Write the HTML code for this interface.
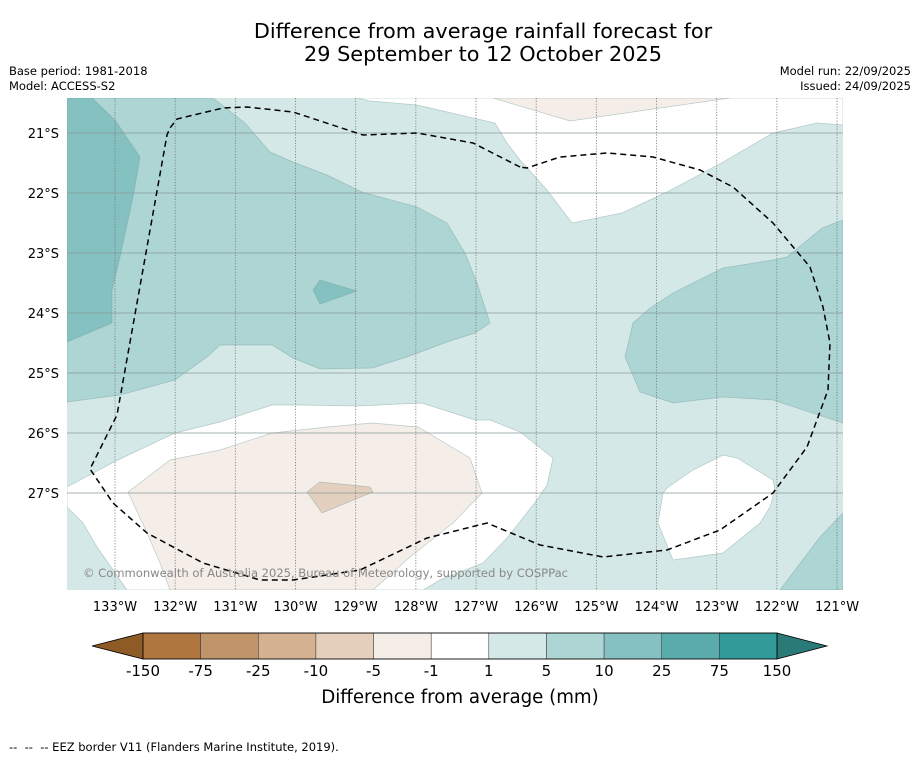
<!DOCTYPE html>
<html><head><meta charset="utf-8"><style>
body{margin:0;background:#fff;width:919px;height:758px;overflow:hidden;font-family:"Liberation Sans","DejaVu Sans",sans-serif}
svg text{font-family:"DejaVu Sans","Liberation Sans",sans-serif}
</style></head><body>
<svg width="919" height="758">
<text x="483" y="38" font-size="20.8" text-anchor="middle">Difference from average rainfall forecast for</text>
<text x="483" y="61" font-size="20.8" text-anchor="middle">29 September to 12 October 2025</text>
<text x="9" y="75" font-size="11.5">Base period: 1981-2018</text>
<text x="9" y="90" font-size="11.5">Model: ACCESS-S2</text>
<text x="911" y="75" font-size="11.5" text-anchor="end">Model run: 22/09/2025</text>
<text x="911" y="90" font-size="11.5" text-anchor="end">Issued: 24/09/2025</text>
<defs><clipPath id="mc"><rect x="67" y="98" width="776" height="492"/></clipPath></defs>
<g clip-path="url(#mc)" stroke="rgba(110,150,150,0.45)" stroke-width="0.7">
<rect x="67" y="98" width="776" height="492" fill="#d4e9e7" stroke="none"/>
<polygon fill="#fff" points="357,98 370,101 417,105 495,123 507,143 520,160 547,190 572,223 622,213 667,192 723,162 773,133 817,123 843,125 843,98"/>
<polygon fill="#f4ede8" points="493,98 570,121 730,98"/>
<polygon fill="#acd5d4" points="843,220 822,228 787,257 773,260 723,268 673,293 650,308 633,323 625,357 640,392 673,403 723,397 773,400 843,423"/>
<polygon fill="#fff" points="667,488 693,470 723,455 737,458 773,480 775,490 770,507 760,523 723,553 673,560 658,523 663,493"/>
<polygon fill="#acd5d4" points="780,590 820,537 843,513 843,590"/>
<polygon fill="#fff" points="67,487 118,460 175,433 220,422 272,405 300,405 357,406 422,403 475,420 490,420 520,432 553,458 547,485 537,500 507,538 483,563 440,580 423,590 127,590 97,547 83,523 67,507"/>
<polygon fill="#f4ede8" points="128,492 170,460 220,450 272,433 327,427 372,423 418,427 470,458 482,493 453,523 410,557 373,590 170,590 160,563 147,533"/>
<polygon fill="#e3cfbd" points="307,492 320,482 370,487 373,492 322,513"/>
<polygon fill="#acd5d4" points="67,98 213,98 245,123 270,152 293,162 327,175 362,192 417,207 447,223 465,253 477,283 490,323 475,333 447,342 407,357 372,368 320,369 293,358 272,345 220,345 207,357 175,380 120,395 67,402"/>
<polygon fill="#84c1c0" points="67,98 92,98 115,120 140,157 133,197 120,257 112,290 112,323 67,342"/>
<polygon fill="#84c1c0" points="313,290 320,280 357,291 320,304"/>
</g>
<g id="grid"></g>
<polyline fill="none" stroke="#000" stroke-width="1.5" stroke-dasharray="6,4" points="520,167 473,143 417,133 363,135 293,112 247,107 223,108 177,119 170,128 167,135 117,415 90,469 113,503 147,533 203,563 260,580 293,580 360,570 427,538 487,523 540,545 603,557 667,550 720,530 773,493 807,447 828,390 830,343 823,307 810,267 773,223 733,187 700,170 653,157 607,153 560,157 527,168 520,167"/>
<text x="83" y="577" font-size="11.6" fill="#888" textLength="485">© Commonwealth of Australia 2025, Bureau of Meteorology, supported by COSPPac</text>
<g id="axes"></g>
<g id="cbar"></g>
<text x="460" y="703" font-size="18.2" text-anchor="middle">Difference from average (mm)</text>
<text x="9" y="751" font-size="11.5" xml:space="preserve" style="white-space:pre">--  --  -- EEZ border V11 (Flanders Marine Institute, 2019).</text>
</svg>
<script>
const lonTicks=[133,132,131,130,129,128,127,126,125,124,123,122,121];
const latTicks=[21,22,23,24,25,26,27];
const levels=["-150","-75","-25","-10","-5","-1","1","5","10","25","75","150"];
const binColors=["#b07840","#c1956a","#d4b190","#e4cfbc","#f4ede8","#ffffff","#d4e9e7","#acd5d4","#84c1c0","#5aacac","#329a98"];
const NS="http://www.w3.org/2000/svg";
function mk(t,a,p){const e=document.createElementNS(NS,t);for(const k in a)e.setAttribute(k,a[k]);p.appendChild(e);return e;}
const xLon=l=>115+(133-l)*60.17;
const yLat=l=>133+(l-21)*60;
const grid=document.getElementById('grid'),axes=document.getElementById('axes'),cb=document.getElementById('cbar');
latTicks.forEach(l=>{
 const ln=mk('line',{x1:67,x2:843,y1:yLat(l),y2:yLat(l),stroke:'#8a9a9a','stroke-width':0.7},grid);
 
 
 const t=mk('text',{x:59,y:yLat(l)+5,'font-size':13,'text-anchor':'end'},axes);t.textContent=l+'°S';
 
 
});
lonTicks.forEach(l=>{
 const ln=mk('line',{x1:xLon(l),x2:xLon(l),y1:98,y2:590,stroke:'#777','stroke-width':0.8,'stroke-dasharray':'1.2,1.6'},grid);
 
 
 const t=mk('text',{x:xLon(l),y:611,'font-size':13,'text-anchor':'middle'},axes);t.textContent=l+'°W';
 
 
});
const x0=143,x1=777,y0=633,y1=659,w=(x1-x0)/binColors.length;
const lt=mk('polygon',{points:`${x0},${y0} ${x0},${y1} 92,646`,fill:'#8e5a26',stroke:'#000','stroke-width':0.8},cb);


const rt=mk('polygon',{points:`${x1},${y0} ${x1},${y1} 827,646`,fill:'#2a7a78',stroke:'#000','stroke-width':0.8},cb);


binColors.forEach((c,i)=>{
 const r=mk('rect',{x:x0+i*w,y:y0,width:w,height:y1-y0,fill:c,stroke:'#333','stroke-width':0.5},cb);
 
 
});
mk('rect',{x:x0,y:y0,width:x1-x0,height:y1-y0,fill:'none',stroke:'#000','stroke-width':0.8},cb);
levels.forEach((s,i)=>{
 const t=mk('text',{x:x0+i*w,y:676,'font-size':15,'text-anchor':'middle'},cb);t.textContent=s;
 
 
});
</script>
</body></html>
